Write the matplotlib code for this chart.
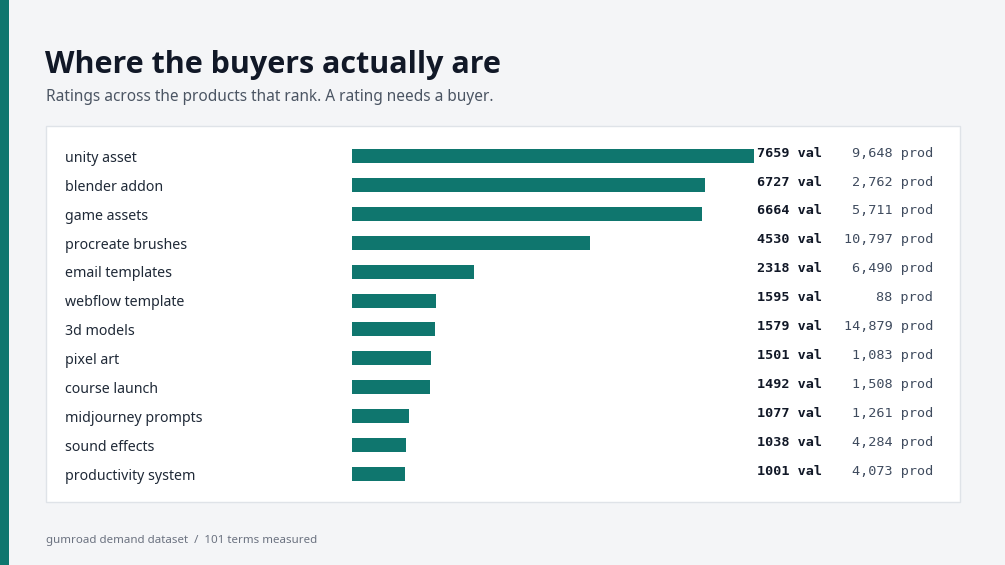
import matplotlib.pyplot as plt
from matplotlib.patches import Rectangle
from matplotlib.transforms import blended_transform_factory

# data
terms = ['unity asset', 'blender addon', 'game assets', 'procreate brushes',
         'email templates', 'webflow template', '3d models', 'pixel art',
         'course launch', 'midjourney prompts', 'sound effects', 'productivity system']
ratings = [7659, 6727, 6664, 4530, 2318, 1595, 1579, 1501, 1492, 1077, 1038, 1001]
products = [9648, 2762, 5711, 10797, 6490, 88, 14879, 1083, 1508, 1261, 4284, 4073]

W, H = 1005, 565
teal = '#0f766e'
bg = '#f4f5f7'

fig = plt.figure(figsize=(W / 100, H / 100), dpi=100)
fig.patch.set_facecolor(bg)

def fx(px):
    return px / W

def fy(py):
    return 1 - py / H

# left accent stripe and white panel
fig.patches.append(Rectangle((0, 0), fx(9), 1, transform=fig.transFigure,
                             facecolor=teal, edgecolor='none', zorder=0))
fig.patches.append(Rectangle((fx(46), fy(502)), fx(960 - 46), (502 - 126) / H,
                             transform=fig.transFigure, facecolor='white',
                             edgecolor='#dfe3e8', linewidth=1, zorder=0))

fig.text(fx(45), fy(65.5), 'Where the buyers actually are', fontsize=22,
         fontweight='bold', family='Open Sans', color='#111827', va='center')
fig.text(fx(46), fy(97), 'Ratings across the products that rank. A rating needs a buyer.',
         fontsize=11.1, family='Noto Sans', color='#4b5563', va='center')
fig.text(fx(46), fy(540), 'gumroad demand dataset  /  101 terms measured',
         fontsize=8.3, family='Noto Sans', color='#6b7280', va='center')

row = 28.9
top = 156 - row / 2
ax = fig.add_axes([fx(352), fy(top + row * len(terms)), fx(402), row * len(terms) / H])
ax.set_zorder(2)
ax.set_facecolor('none')
y = list(range(len(terms)))
ax.barh(y, ratings, height=14 / row, color=teal)
ax.set_xlim(0, max(ratings))
ax.set_ylim(len(terms) - 0.5, -0.5)
ax.axis('off')

tr = blended_transform_factory(fig.transFigure, ax.transData)
for i, (t, r, p) in enumerate(zip(terms, ratings, products)):
    ax.text(fx(65), i + 0.08, t, transform=tr, fontsize=10.2, family='Noto Sans',
            color='#1f2937', va='center', clip_on=False)
    ax.text(fx(757), i - 0.1, f'{r} val', transform=tr, fontsize=9.7,
            family='DejaVu Sans Mono', fontweight='bold', color='#111827',
            va='center', clip_on=False)
    ax.text(fx(933), i - 0.1, f'{p:,} prod', transform=tr, fontsize=9.7,
            family='DejaVu Sans Mono', color='#3f4b5e', ha='right',
            va='center', clip_on=False)

fig.savefig('out.png', dpi=100, facecolor=bg)
